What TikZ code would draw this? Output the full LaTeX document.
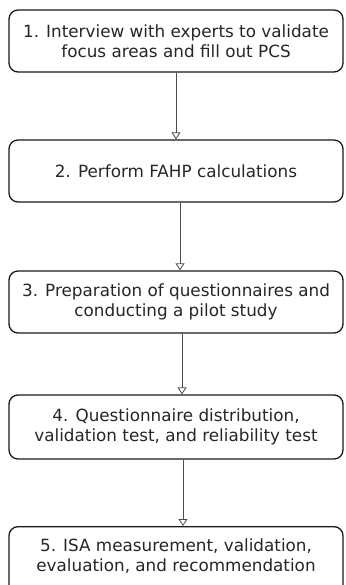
\documentclass[tikz,border=0pt]{standalone}
\usepackage{fontspec}
\setmainfont{DejaVu Sans}
\usetikzlibrary{arrows.meta}
\begin{document}
\begin{tikzpicture}[x=1pt,y=-1pt,
  steptext/.style={align=center, inner sep=0pt,
    font=\fontsize{16.8}{20}\selectfont, text=black!85},
  stepbox/.style={steptext, draw=black!90, line width=1.3pt, rounded corners=9pt,
    minimum width=334pt, minimum height=62pt},
  arr/.style={draw=black!70, line width=0.8pt,
    -{Triangle[open,length=7pt,width=9pt,line width=0.8pt]}}]
\useasboundingbox (0,0) rectangle (345,585);
\node[stepbox] (b1) at (176,41) {1. Interview with experts to validate\\focus areas and fill out PCS};
\node[stepbox] (b2) at (176,171) {2. Perform FAHP calculations};
\node[stepbox] (b3) at (176,302) {3. Preparation of questionnaires and\\conducting a pilot study};
\node[stepbox, minimum height=64pt] (b4) at (176,427) {4. Questionnaire distribution,\\validation test, and reliability test};
\node[stepbox, minimum height=84pt, anchor=north] (b5) at (176,526) {};
\node[steptext] (b5t) at (176,556) {5. ISA measurement, validation,\\evaluation, and recommendation};
\draw[arr] (b1.south) -- (b2.north);
\draw[arr] ([xshift=4pt]b2.south) -- ([xshift=4pt]b3.north);
\draw[arr] ([xshift=6pt]b3.south) -- ([xshift=6pt]b4.north);
\draw[arr] ([xshift=7pt]b4.south) -- ([xshift=7pt]b5.north);
\end{tikzpicture}
\end{document}
